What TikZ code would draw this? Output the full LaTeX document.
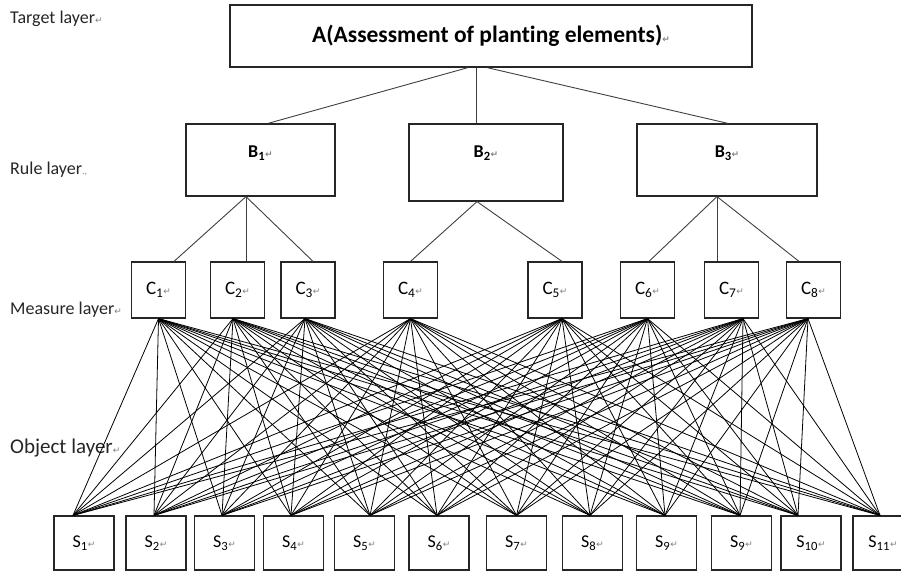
\documentclass[tikz,border=0pt]{standalone}
\usepackage{fontspec}
\setmainfont{Carlito}[Ligatures=NoCommon]
\newfontfamily\retfont{DejaVu Sans}
\newcommand{\pmark}{{\retfont\fontsize{9}{9}\selectfont\color{gray}↵}}

\begin{document}
\begin{tikzpicture}[x=1pt,y=-1pt,
  box/.style={draw=black!85,line width=1.2pt,fill=white,inner sep=0pt},
  goalbox/.style={box,minimum width=522,minimum height=62,font=\fontsize{23.5}{26}\selectfont\bfseries},
  rulebox/.style={box,minimum height=72,text depth=16pt,font=\fontsize{18}{20}\selectfont\bfseries},
  measbox/.style={box,minimum width=54,minimum height=56,font=\fontsize{19}{21}\selectfont},
  objbox/.style={box,minimum width=60,minimum height=54,font=\fontsize{18}{20}\selectfont},
  link/.style={draw=black!75,line width=0.9pt},
  fan/.style={draw=black,line width=0.8pt},
  layer/.style={anchor=west,inner sep=0pt,font=\fontsize{18}{20}\selectfont,text=black!85}]

\useasboundingbox (0,0) rectangle (901,572);

% Layer names
\node[layer] (tl) at (10,19) {Target layer\pmark};
\node[layer] (rl) at (10,170) {Rule layer{\color{gray}\fontsize{10}{10}\selectfont.,}};
\node[layer] (ml) at (10,310) {Measure layer\pmark};
\node[layer,font=\fontsize{21}{23}\selectfont] (ol) at (10,448) {Object layer\pmark};

% Target
\node[goalbox] (A) at (491,36) {A(Assessment of planting elements)\pmark};

% Rules
\node[rulebox,minimum width=149] (B1) at (260.5,160) {B\textsubscript{1}\pmark};
\node[rulebox,minimum width=154,minimum height=77,text depth=21pt] (B2) at (486,162.5) {B\textsubscript{2}\pmark};
\node[rulebox,minimum width=180] (B3) at (727,160) {B\textsubscript{3}\pmark};

% Measures
\foreach \n/\x in {1/158.5,2/237.5,3/308,4/410.5,5/555,6/647.5,7/731.5,8/813.5}
  \node[measbox] (C\n) at (\x,290) {C\textsubscript{\n}\pmark};

% Objects
\foreach \n/\x/\t in {1/84/1,2/156/2,3/224.5/3,4/293.5/4,5/364.5/5,6/439/6,
    7/516.5/7,8/592.5/8,9/666.5/9,9b/741.5/9,10/811/10,11/883/11}
  \node[objbox] (S\n) at (\x,543) {S\textsubscript{\t}\pmark};

% Target to rules
\draw[link] ([xshift=-23]A.south) -- ([xshift=7.5]B1.north);
\draw[link] ([xshift=-15]A.south) -- ([xshift=-10]B2.north);
\draw[link] ([xshift=-4]A.south) -- ([xshift=1]B3.north);

% Rules to measures
\draw[link] ([xshift=-14.5]B1.south) -- ([xshift=15.5]C1.north);
\draw[link] ([xshift=-14.5]B1.south) -- ([xshift=8.5]C2.north);
\draw[link] ([xshift=-14.5]B1.south) -- ([xshift=5]C3.north);
\draw[link] ([xshift=-9]B2.south) -- (C4.north);
\draw[link] ([xshift=-9]B2.south) -- ([xshift=7]C5.north);
\draw[link] ([xshift=-10]B3.south) -- ([xshift=1.5]C6.north);
\draw[link] ([xshift=-10]B3.south) -- ([xshift=-14.5]C7.north);
\draw[link] ([xshift=-10]B3.south) -- ([xshift=-14.5]C8.north);

% Measures to objects
\foreach \c/\cd in {1/0,2/-4.5,3/-3,4/0,5/7,6/0,7/11.5,8/-5.5}
  \foreach \s/\sd in {1/-11,2/-2,3/-2.5,4/-2.5,5/5.5,6/-2,7/0,8/-2.5,9/-1.5,9b/-1.5,10/-13,11/-3}
    \draw[fan] ([xshift=\cd]C\c.south) -- ([xshift=\sd]S\s.north);
\end{tikzpicture}
\end{document}
